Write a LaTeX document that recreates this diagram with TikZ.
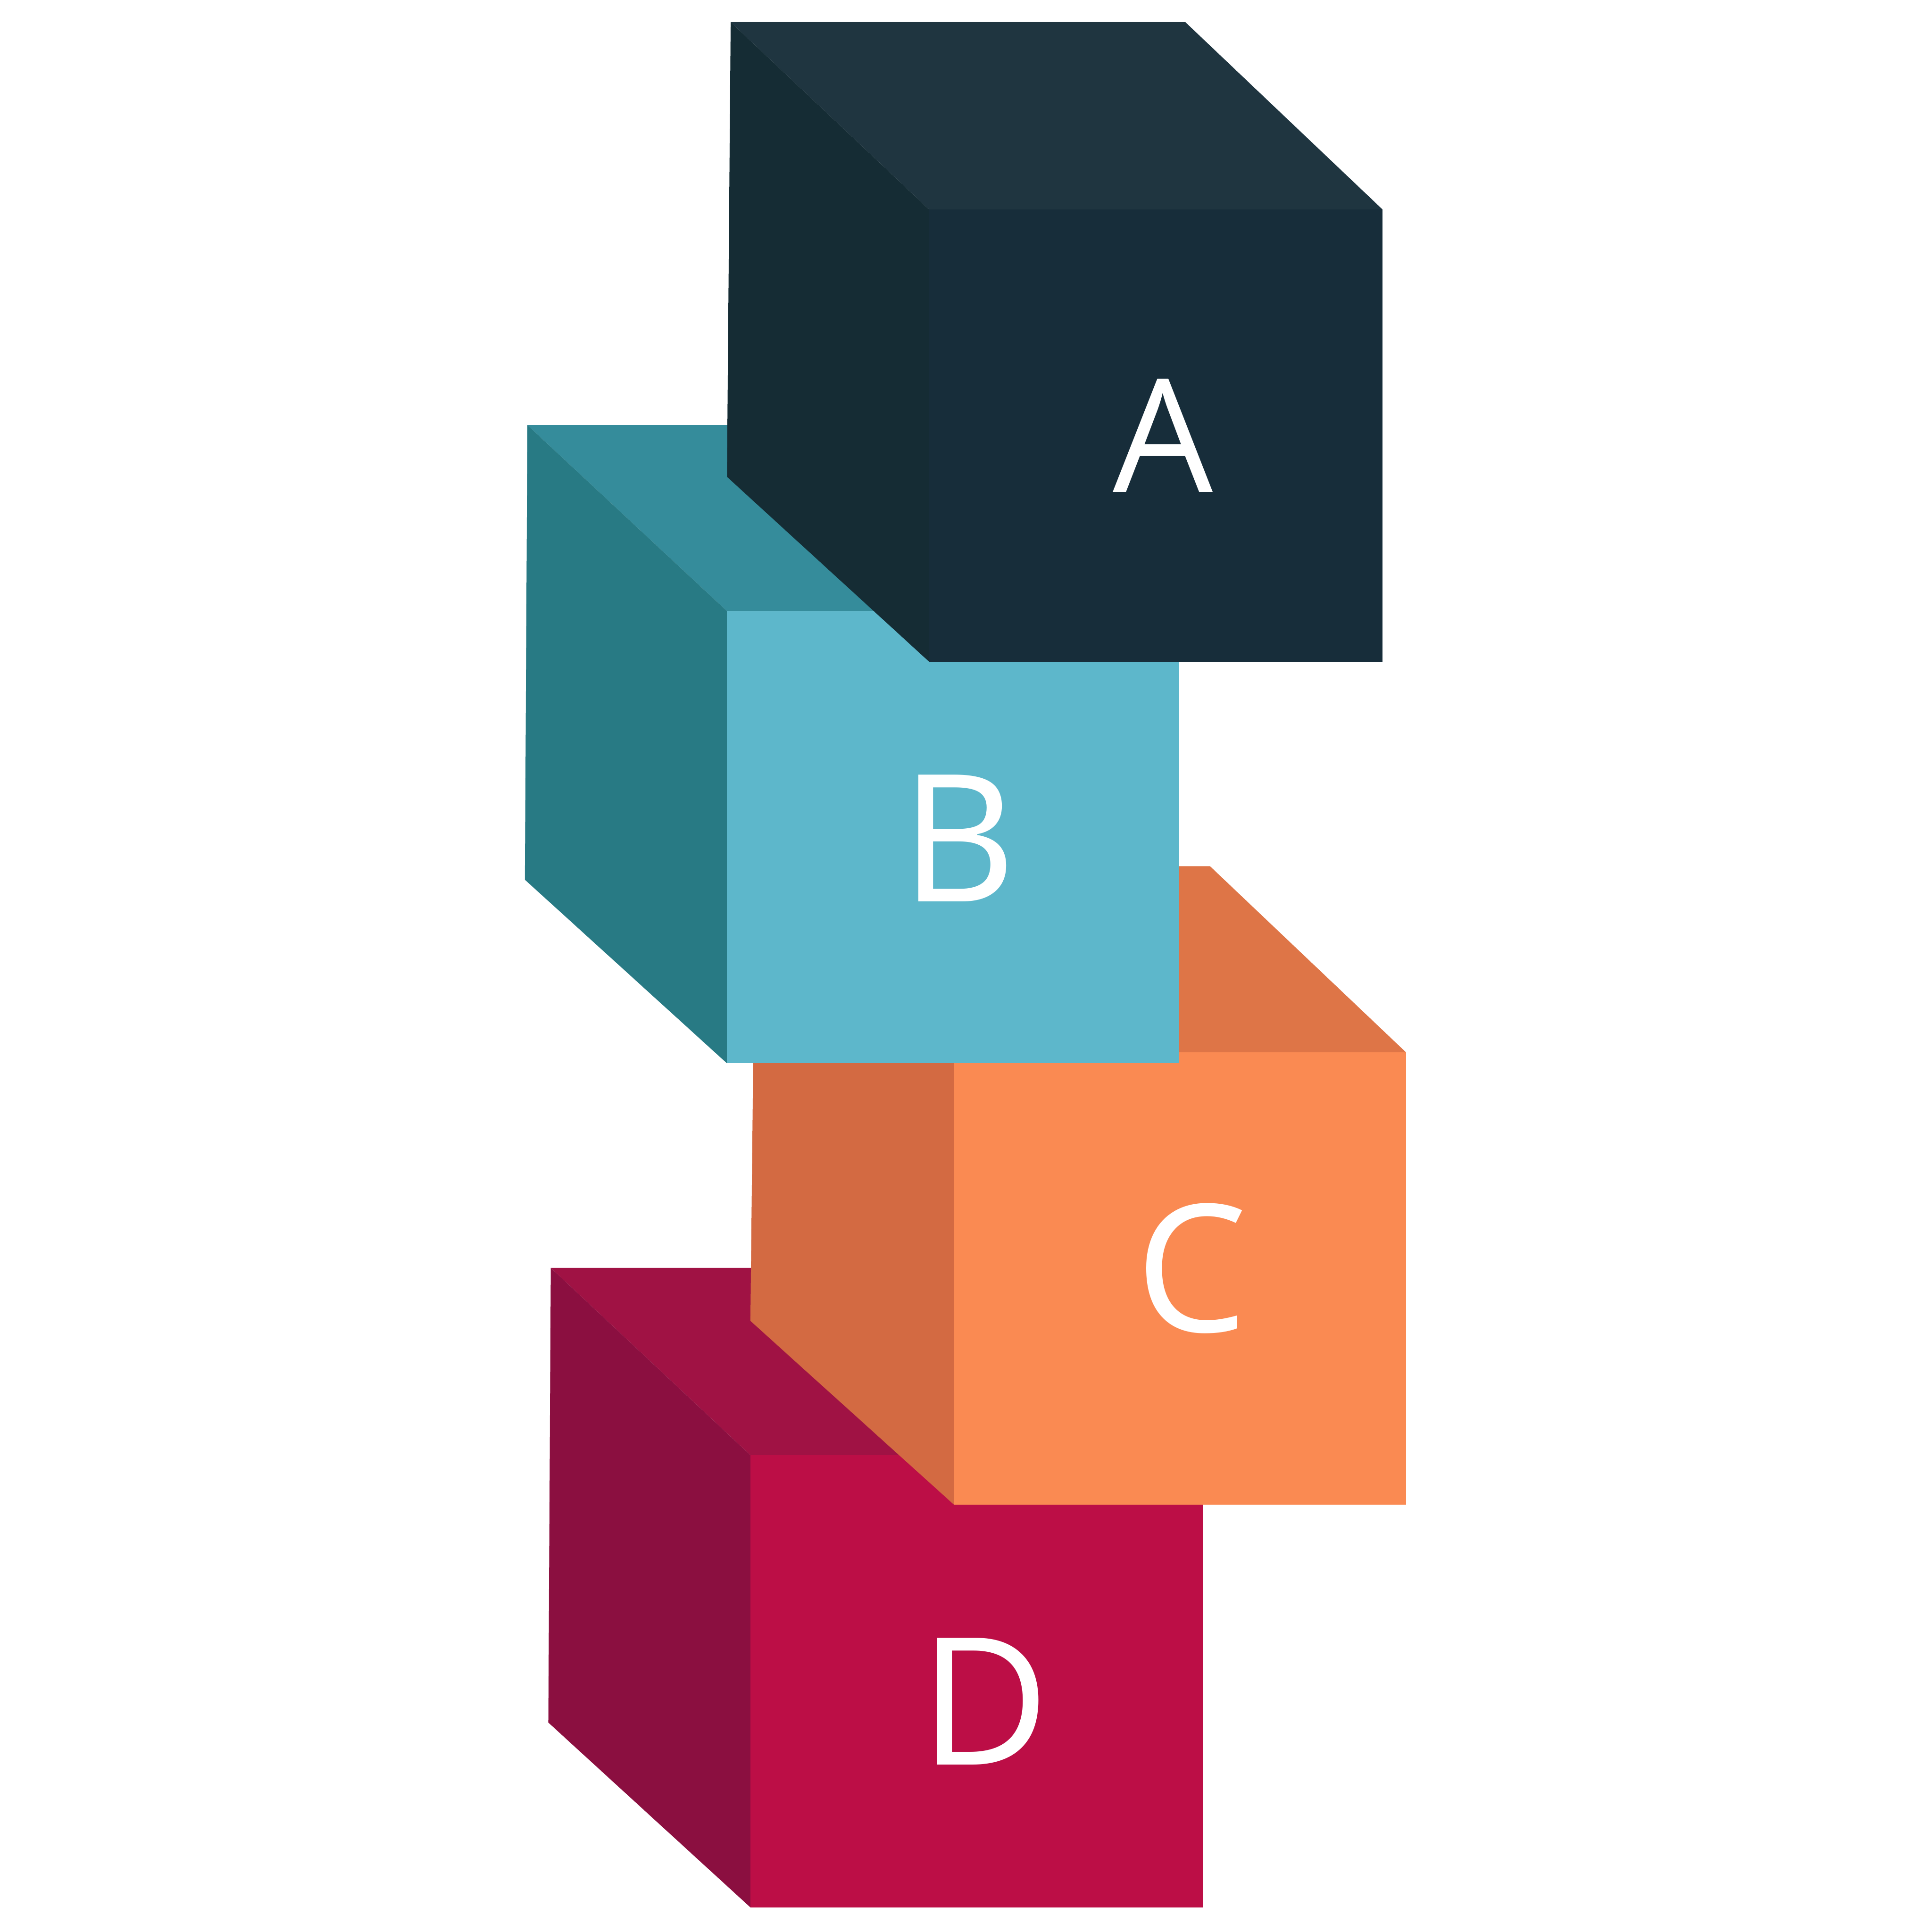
\documentclass[tikz,border=0pt]{standalone}
\usepackage{fontspec}
\setmainfont{Open Sans}
\definecolor{atop}{HTML}{1F3540}
\definecolor{aside}{HTML}{152C34}
\definecolor{afront}{HTML}{172D3A}
\definecolor{btop}{HTML}{358C9B}
\definecolor{bside}{HTML}{287A84}
\definecolor{bfront}{HTML}{5DB7CB}
\definecolor{ctop}{HTML}{DE7547}
\definecolor{cside}{HTML}{D36A42}
\definecolor{cfront}{HTML}{FA8A52}
\definecolor{dtop}{HTML}{A01244}
\definecolor{dside}{HTML}{8B0F40}
\definecolor{dfront}{HTML}{BC0E46}
\tikzset{cubelabel/.style={text=white, inner sep=0pt, font=\fontsize{41}{41}\selectfont}}
\begin{document}
\begin{tikzpicture}[scale=1.0]
  \useasboundingbox (0,0) rectangle (15.68,15.68);
  % cube D
  \fill[dtop] (4.47,5.39) -- (8.16,5.39) -- (9.76,3.87) -- (6.09,3.87) -- cycle;
  \fill[dside] (4.47,5.39) -- (6.09,3.87) -- (6.09,0.20) -- (4.45,1.70) -- cycle;
  \fill[dfront] (6.09,0.20) rectangle (9.76,3.87);
  \node[cubelabel] (d) at (7.99,1.87) {D};
  % cube C
  \fill[ctop] (6.13,8.65) -- (9.82,8.65) -- (11.41,7.14) -- (7.74,7.14) -- cycle;
  \fill[cside] (6.13,8.65) -- (7.74,7.14) -- (7.74,3.47) -- (6.09,4.96) -- cycle;
  \fill[cfront] (7.74,3.47) rectangle (11.41,7.14);
  \node[cubelabel] (c) at (9.67,5.385) {C};
  % cube B
  \fill[btop] (4.28,12.23) -- (7.97,12.23) -- (9.57,10.72) -- (5.90,10.72) -- cycle;
  \fill[bside] (4.28,12.23) -- (5.90,10.72) -- (5.90,7.05) -- (4.26,8.54) -- cycle;
  \fill[bfront] (5.90,7.05) rectangle (9.57,10.72);
  \node[cubelabel] (b) at (7.78,8.875) {B};
  % cube A
  \fill[atop] (5.93,15.50) -- (9.62,15.50) -- (11.22,13.98) -- (7.54,13.98) -- cycle;
  \fill[aside] (5.93,15.50) -- (7.54,13.98) -- (7.54,10.31) -- (5.90,11.81) -- cycle;
  \fill[afront] (7.54,10.31) rectangle (11.22,13.98);
  \node[cubelabel, font=\fontsize{36.5}{36.5}\selectfont] (a) at (9.44,12.145) {A};
\end{tikzpicture}
\end{document}
